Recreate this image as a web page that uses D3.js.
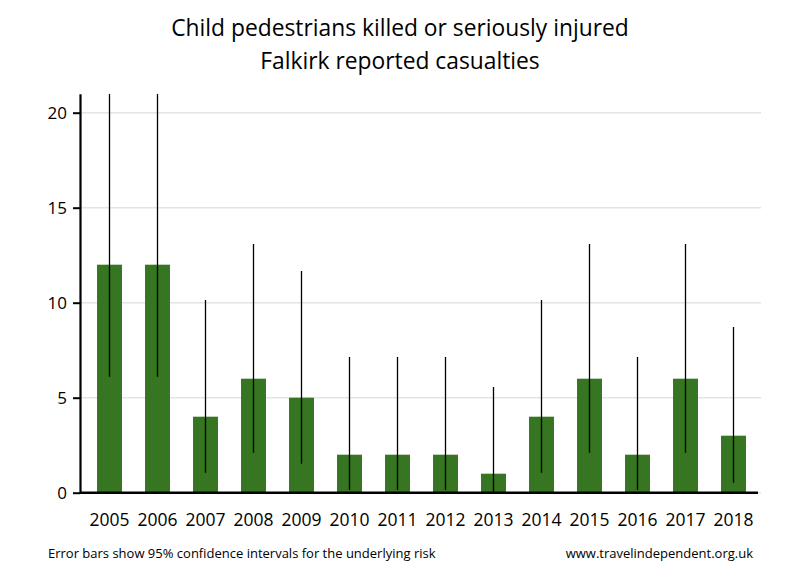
<!DOCTYPE html>
<html>
<head>
<meta charset="utf-8">
<script src="https://cdn.jsdelivr.net/npm/d3@7"></script>
<style>
body { margin: 0; background: #fff; }
text { font-family: "Open Sans", sans-serif; }
</style>
</head>
<body>
<svg id="chart" width="800" height="580"></svg>
<script>
const years = ["2005","2006","2007","2008","2009","2010","2011","2012","2013","2014","2015","2016","2017","2018"];
const casualties = [12, 12, 4, 6, 5, 2, 2, 2, 1, 4, 6, 2, 6, 3];
const ciLower = [6.1, 6.1, 1.05, 2.1, 1.53, 0.14, 0.14, 0.14, 0.03, 1.05, 2.1, 0.14, 2.1, 0.53];
const ciUpper = [21.5, 21.5, 10.14, 13.09, 11.67, 7.14, 7.14, 7.14, 5.56, 10.14, 13.09, 7.14, 13.09, 8.72];
const yTicks = [0, 5, 10, 15, 20];
const titleLines = ["Child pedestrians killed or seriously injured", "Falkirk reported casualties"];
const footLeft = "Error bars show 95% confidence intervals for the underlying risk";
const footRight = "www.travelindependent.org.uk";

const svg = d3.select("#chart");
const x = d3.scaleBand().domain(years).range([85.5, 757.5]).paddingInner(0.48).paddingOuter(0.24);
const y = d3.scaleLinear().domain([0, 21]).range([492.7, 93.7]);

// gridlines
svg.append("g").selectAll("line").data(yTicks).join("line")
  .attr("x1", 80).attr("x2", 761)
  .attr("y1", d => y(d)).attr("y2", d => y(d))
  .attr("stroke", "#e4e4e4").attr("stroke-width", 1.6);

// bars
svg.append("g").selectAll("rect").data(years).join("rect")
  .attr("x", d => x(d)).attr("width", x.bandwidth())
  .attr("y", (d, i) => y(casualties[i]))
  .attr("height", (d, i) => y(0) - y(casualties[i]))
  .attr("fill", "#367521");

// error bars
const clipId = "plotclip";
svg.append("clipPath").attr("id", clipId).append("rect")
  .attr("x", 80).attr("y", y(21)).attr("width", 690).attr("height", y(0) - y(21));
svg.append("g").attr("clip-path", `url(#${clipId})`).selectAll("line").data(years).join("line")
  .attr("x1", d => x(d) + x.bandwidth() / 2).attr("x2", d => x(d) + x.bandwidth() / 2)
  .attr("y1", (d, i) => y(ciLower[i])).attr("y2", (d, i) => y(Math.min(ciUpper[i], 21)))
  .attr("stroke", "#000").attr("stroke-width", 1.3);

// y axis
const yAxis = d3.axisLeft(y).tickValues(yTicks).tickSize(7).tickSizeOuter(0).tickPadding(6);
const gy = svg.append("g").attr("transform", "translate(80,0)").call(yAxis);
gy.select(".domain").attr("stroke-width", 2.2);
gy.selectAll(".tick line").attr("stroke-width", 2);
gy.selectAll(".tick text").attr("font-size", 17).attr("fill", "#000").attr("font-family", "Open Sans, sans-serif");

// x axis
const xAxis = d3.axisBottom(x).tickSize(0).tickSizeOuter(0).tickPadding(21);
const gx = svg.append("g").attr("transform", `translate(0,${y(0)})`).call(xAxis);
gx.select(".domain").attr("d", `M80,0H758`).attr("stroke-width", 2.4);
gx.selectAll(".tick text").attr("font-size", 17.5).attr("fill", "#000").attr("font-family", "Open Sans, sans-serif");

// title
svg.append("g").selectAll("text").data(titleLines).join("text")
  .attr("x", 400).attr("y", (d, i) => 36 + i * 33)
  .attr("text-anchor", "middle").attr("font-size", 22.8).attr("fill", "#000")
  .text(d => d);

// footers
svg.append("text").attr("x", 48).attr("y", 558).attr("font-size", 13)
  .attr("fill", "#000").text(footLeft);
svg.append("text").attr("x", 753).attr("y", 558).attr("text-anchor", "end").attr("font-size", 13)
  .attr("fill", "#000").text(footRight);
</script>
</body>
</html>
